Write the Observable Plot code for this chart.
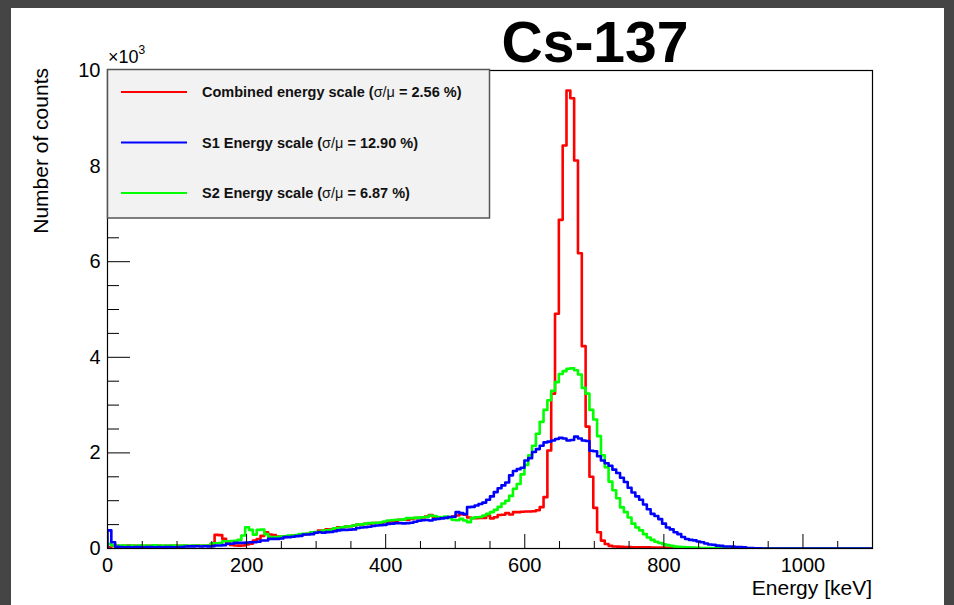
<!DOCTYPE html>
<html>
<head>
<meta charset="utf-8">
<script src="https://cdn.jsdelivr.net/npm/d3@7"></script>
<script src="https://cdn.jsdelivr.net/npm/@observablehq/plot@0.6"></script>
<style>
  html, body { margin: 0; padding: 0; width: 954px; height: 605px; overflow: hidden; background: #454545; }
  #page { position: absolute; left: 11px; top: 8px; width: 933px; height: 597px; background: #ffffff; }
  #chart, #overlay { position: absolute; left: 0; top: 0; }
</style>
</head>
<body>
<div id="page"></div>
<div id="chart"></div>
<svg id="overlay" width="954" height="605"></svg>
<script>
// ---- Data (5.5 keV bins, 0 - 1100 keV) ----
const binWidth = 5.5;
const energyDomain = [0, 1100];

const seriesNames = [
  "Combined energy scale",
  "S1 Energy scale",
  "S2 Energy scale"
];
const seriesResolution = ["2.56", "12.90", "6.87"];
const seriesColors = ["#ff0000", "#0000ff", "#00ff00"];

const combinedCounts = [
  30,55,58,52,56,60,54,57,55,53,
  58,56,60,55,52,57,59,54,56,58,
  55,53,57,60,55,56,60,100,286,280,
  202,120,75,63,60,63,85,100,167,200,
  265,340,292,280,251,251,240,245,272,272,
  292,295,306,310,341,376,380,404,404,411,
  446,446,460,465,481,500,502,516,520,530,
  532,535,550,560,565,580,600,600,605,620,
  635,635,650,670,700,660,650,645,650,655,
  670,690,720,705,650,635,635,640,640,690,
  630,655,700,705,740,710,760,760,770,775,
  775,780,800,865,1074,2050,3236,4910,6876,8431,
  9581,9420,8117,6178,4233,2550,1500,850,340,165,
  95,55,42,40,35,32,28,27,26,25,
  25,24,22,20,20,18,16,15,12,10,
  0,0,0,0,0,0,0,0,0,0,
  0,0,0,0,0,0,0,0,0,0,
  0,0,0,0,0,0,0,0,0,0,
  0,0,0,0,0,0,0,0,0,0,
  0,0,0,0,0,0,0,0,0,0
];

const s1Counts = [
  380,130,35,28,27,29,26,28,30,27,
  28,29,26,28,27,30,28,27,29,28,
  42,45,44,46,43,47,45,48,63,63,
  70,98,98,118,118,118,125,132,132,140,
  167,167,202,202,202,210,237,237,245,258,
  265,292,292,300,330,341,330,342,345,362,
  380,390,390,395,400,430,440,446,455,470,
  480,485,495,516,520,530,530,525,530,540,
  560,580,590,595,585,610,620,630,640,660,
  665,760,740,720,865,870,900,930,960,1020,
  1090,1180,1260,1320,1380,1530,1620,1660,1690,1841,
  1890,2020,2080,2150,2220,2235,2260,2290,2315,2300,
  2260,2270,2340,2300,2260,2250,2045,2035,1930,1841,
  1785,1730,1650,1580,1480,1390,1270,1170,1090,1020,
  920,820,725,680,615,520,440,400,340,300,
  240,200,180,170,145,130,105,85,80,60,
  55,42,42,40,28,28,25,12,8,5,
  3,0,0,0,0,0,0,0,0,0,
  0,0,0,0,0,0,0,0,0,0,
  0,0,0,0,0,0,0,0,0,0
];

const s2Counts = [
  100,62,58,60,64,57,61,59,63,60,
  58,62,65,59,61,57,60,63,58,62,
  60,59,61,64,58,60,62,111,111,115,
  153,153,155,160,181,272,446,390,290,390,
  397,300,237,237,240,250,255,272,272,280,
  300,307,310,341,345,350,376,380,390,425,
  430,446,460,467,480,502,505,516,530,530,
  540,545,565,585,590,600,600,610,635,635,
  640,645,655,660,690,680,660,655,670,640,
  600,590,620,585,551,635,655,660,690,725,
  760,809,870,940,1000,1100,1250,1350,1550,1750,
  1950,2150,2400,2650,2900,3100,3300,3480,3650,3710,
  3760,3770,3730,3640,3360,3240,2900,2700,2350,1950,
  1700,1400,1220,1050,860,760,650,520,440,380,
  300,230,180,140,115,90,70,55,40,35,
  28,25,22,18,15,12,10,10,8,6,
  5,0,0,0,0,0,0,0,0,0,
  0,0,0,0,0,0,0,0,0,0,
  0,0,0,0,0,0,0,0,0,0,
  0,0,0,0,0,0,0,0,0,0
];

const xTicks = [0, 200, 400, 600, 800, 1000];
const xTickLabels = ["0", "200", "400", "600", "800", "1000"];
const yTicks = [0, 2000, 4000, 6000, 8000, 10000];
const yTickLabels = ["0", "2", "4", "6", "8", "10"];
const xMinorTicks = d3.range(0, 1101, 50).filter(v => !xTicks.includes(v));
const yMinorTicks = d3.range(0, 10001, 500).filter(v => !yTicks.includes(v));

const titleText = "Cs-137";
const xLabel = "Energy [keV]";
const yLabel = "Number of counts";
const yMultiplier = "3";

// ---- Build step outlines (ROOT HIST style) ----
function outline(values) {
  const pts = [{x: 0, y: 0}];
  values.forEach((v, i) => pts.push({x: i * binWidth, y: v}));
  pts.push({x: values.length * binWidth, y: values[values.length - 1]});
  return pts;
}
const series = [combinedCounts, s1Counts, s2Counts].map(outline);

const W = 954, H = 605;
const mL = 107, mR = 82, mT = 70, mB = 57;
const frameW = W - mL - mR, frameH = H - mT - mB;
const font = "Liberation Sans, Arial, Helvetica, sans-serif";
const lw = 2.6;

const chart = Plot.plot({
  width: W,
  height: H,
  marginLeft: mL,
  marginRight: mR,
  marginTop: mT,
  marginBottom: mB,
  style: {background: "transparent", fontFamily: font, color: "#000"},
  x: {domain: energyDomain},
  y: {domain: [0, 10000]},
  marks: [
    Plot.line(series[0], {x: "x", y: "y", curve: "step-after", stroke: seriesColors[0], strokeWidth: lw, clip: true}),
    Plot.line(series[2], {x: "x", y: "y", curve: "step-after", stroke: seriesColors[2], strokeWidth: lw, clip: true}),
    Plot.line(series[1], {x: "x", y: "y", curve: "step-after", stroke: seriesColors[1], strokeWidth: lw, clip: true}),
    Plot.tickY(yTicks, {y: d => d, insetRight: frameW - 23, stroke: "#000", strokeWidth: 1}),
    Plot.tickY(yMinorTicks, {y: d => d, insetRight: frameW - 12, stroke: "#000", strokeWidth: 1}),
    Plot.tickX(xTicks, {x: d => d, insetTop: frameH - 14, stroke: "#000", strokeWidth: 1}),
    Plot.tickX(xMinorTicks, {x: d => d, insetTop: frameH - 7, stroke: "#000", strokeWidth: 1}),
    Plot.axisY({ticks: yTicks, tickSize: 0, tickPadding: 7, fontSize: 20, label: null,
      tickFormat: d => yTickLabels[yTicks.indexOf(d)]}),
    Plot.axisX({ticks: xTicks, tickSize: 0, tickPadding: 9, fontSize: 20, label: null,
      tickFormat: d => xTickLabels[xTicks.indexOf(d)]}),
    Plot.frame({stroke: "#000", strokeWidth: 1.2})
  ]
});
document.getElementById("chart").appendChild(chart);

// ---- Overlay: title, axis titles, multiplier, legend ----
const ov = d3.select("#overlay").attr("font-family", font);
ov.append("text").attr("x", 595).attr("y", 62).attr("text-anchor", "middle")
  .attr("font-size", 57).attr("font-weight", "bold").text(titleText);
ov.append("text").attr("x", W - mR).attr("y", 595).attr("text-anchor", "end")
  .attr("font-size", 21).text(xLabel);
ov.append("text").attr("transform", `translate(48,${mT - 2}) rotate(-90)`).attr("text-anchor", "end")
  .attr("font-size", 21).text(yLabel);
const mult = ov.append("text").attr("x", mL + 1).attr("y", 63).attr("font-size", 18);
mult.append("tspan").text("\u00d710");
mult.append("tspan").attr("dy", -9).attr("font-size", 12).text(yMultiplier);

const lg = ov.append("g");
lg.append("rect").attr("x", 107.5).attr("y", 69.5).attr("width", 382).attr("height", 148.5)
  .attr("fill", "#f2f2f2").attr("stroke", "#555").attr("stroke-width", 1.5);
[0, 1, 2].forEach((k, j) => {
  const yy = 92 + j * 50.5;
  lg.append("line").attr("x1", 121).attr("x2", 187).attr("y1", yy).attr("y2", yy)
    .attr("stroke", seriesColors[k]).attr("stroke-width", 2.2);
  const t = lg.append("text").attr("x", 202).attr("y", yy + 5).attr("font-size", 14.5)
    .attr("font-weight", "bold").attr("fill", "#111");
  t.append("tspan").text(seriesNames[k] + " (");
  t.append("tspan").attr("font-weight", "normal").text("\u03c3/\u03bc");
  t.append("tspan").text(" = " + seriesResolution[k] + " %)");
});
</script>
</body>
</html>
